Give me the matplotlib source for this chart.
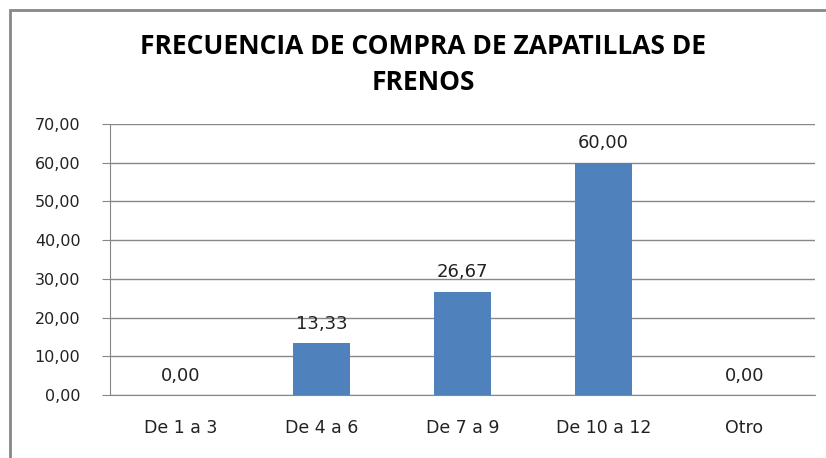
import matplotlib.pyplot as plt
from matplotlib.lines import Line2D

# datos del grafico
categorias = ["De 1 a 3", "De 4 a 6", "De 7 a 9", "De 10 a 12", "Otro"]
valores = [0.00, 13.33, 26.67, 60.00, 0.00]
yticks = [0, 10, 20, 30, 40, 50, 60, 70]

plt.rcParams['font.family'] = ['DejaVu Sans']

fig = plt.figure(figsize=(8.26, 4.58), dpi=100)
ax = fig.add_axes([110/826, 63/458, 705/826, 271/458])

x = range(len(categorias))
ax.bar(x, valores, width=0.4, color="#4F81BD", zorder=3)

for xi, v in zip(x, valores):
    ax.annotate(f"{v:.2f}".replace(".", ","), (xi, v), xytext=(0, 10.3),
                textcoords="offset points", ha="center", va="baseline",
                fontsize=13, color="#222222")

ax.set_xlim(-0.5, len(categorias) - 0.5)
ax.set_ylim(0, 70)
ax.set_yticks(yticks)
ax.set_yticklabels([f"{t:.2f}".replace(".", ",") for t in yticks], fontsize=11.5, color="#222222")
ax.set_xticks(list(x))
ax.set_xticklabels(categorias, fontsize=12.5, color="#222222")
ax.tick_params(axis="x", length=0, pad=17)
ax.tick_params(axis="y", length=5.8, color="#878787", pad=15.5)
ax.grid(axis="y", color="#878787", linewidth=1, zorder=0)

for s in ["top", "right"]:
    ax.spines[s].set_visible(False)
for s in ["left", "bottom"]:
    ax.spines[s].set_color("#878787")

fig.text(423/826, 1 - 54.3/458, "FRECUENCIA DE COMPRA DE ZAPATILLAS DE",
         ha="center", va="baseline", fontsize=19, fontweight="bold",
         family="Open Sans")
fig.text(423/826, 1 - 90.5/458, "FRENOS",
         ha="center", va="baseline", fontsize=19, fontweight="bold",
         family="Open Sans")

# marco del area del grafico
fig.add_artist(Line2D([10/826, 10/826, 1], [0, 1 - 9.5/458, 1 - 9.5/458],
                      transform=fig.transFigure, color="#878787", linewidth=2,
                      solid_capstyle="butt", solid_joinstyle="miter"))

fig.savefig("out.png", dpi=100)
